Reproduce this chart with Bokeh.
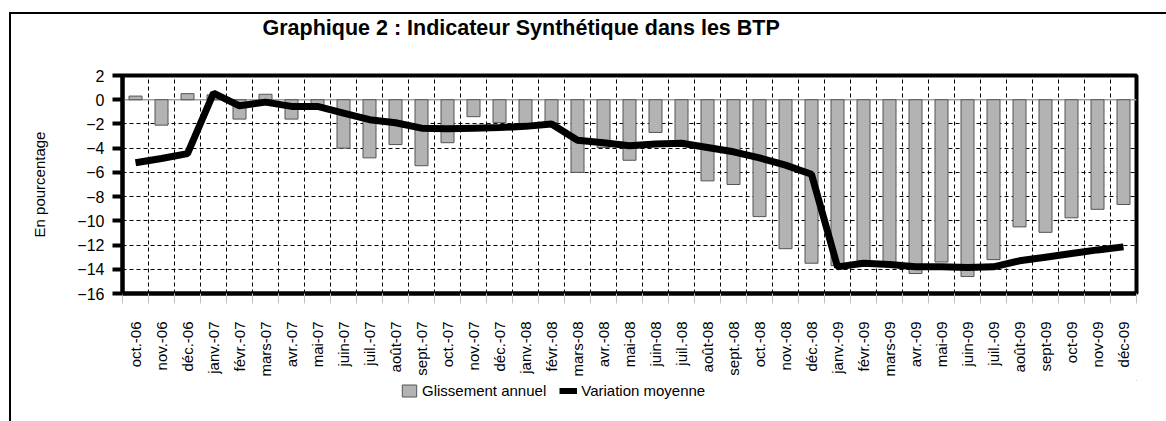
import math
from bokeh.plotting import figure
from bokeh.layouts import column
from bokeh.models import (Range1d, FixedTicker, Span, Legend, LegendItem, ColumnDataSource,
                          Label)
from bokeh.embed import file_html
from bokeh.resources import INLINE

months = ["oct.-06", "nov.-06", "déc.-06", "janv.-07", "févr.-07", "mars-07", "avr.-07",
          "mai-07", "juin-07", "juil.-07", "août-07", "sept.-07", "oct.-07", "nov.-07",
          "déc.-07", "janv.-08", "févr.-08", "mars-08", "avr.-08", "mai-08", "juin-08",
          "juil.-08", "août-08", "sept.-08", "oct.-08", "nov.-08", "déc.-08", "janv.-09",
          "févr.-09", "mars-09", "avr.-09", "mai-09", "juin-09", "juil.-09", "août-09",
          "sept-09", "oct-09", "nov-09", "déc-09"]

glissement_annuel = [0.3, -2.1, 0.5, 0.4, -1.6, 0.45, -1.6, -0.4, -4.0, -4.8, -3.7, -5.45,
                     -3.55, -1.4, -1.9, -2.2, -1.9, -6.0, -3.95, -5.0, -2.7, -3.5, -6.7,
                     -7.0, -9.65, -12.3, -13.5, -13.7, -13.3, -13.45, -14.35, -13.4,
                     -14.6, -13.2, -10.5, -10.95, -9.75, -9.05, -8.65]

variation_moyenne = [-5.2, -4.85, -4.45, 0.55, -0.5, -0.2, -0.55, -0.55, -1.1, -1.65, -1.9,
                     -2.35, -2.4, -2.35, -2.3, -2.2, -2.0, -3.35, -3.55, -3.8, -3.65, -3.6,
                     -3.95, -4.3, -4.8, -5.4, -6.15, -13.8, -13.5, -13.6, -13.8, -13.8,
                     -13.85, -13.8, -13.3, -13.0, -12.7, -12.4, -12.15]

y_ticks = list(range(-16, 3, 2))

title_text = "Graphique 2 : Indicateur Synthétique dans les BTP"
y_label = "En pourcentage"
series_names = ["Glissement annuel", "Variation moyenne"]
FONT = "Liberation Sans"

BAR_FILL = "#b3b3b3"
BAR_LINE = "#555555"
W = 1166


def blank_fig(h):
    f = figure(width=W, height=h, output_backend="svg", toolbar_location=None,
               x_range=Range1d(0, 1), y_range=Range1d(0, 1),
               x_axis_location=None, y_axis_location=None,
               min_border=0, min_border_left=0, min_border_right=0,
               min_border_top=0, min_border_bottom=0)
    f.grid.visible = False
    f.outline_line_color = None
    f.background_fill_color = None
    f.border_fill_color = None
    return f


# ---------------- title strip ----------------
TITLE_H = 45
tfig = blank_fig(TITLE_H)
# (the strip's frame is aligned with the chart frame, which starts at x=122)
tfig.add_layout(Label(x=140, y=TITLE_H - 27, x_units="screen", y_units="screen",
                      text=title_text, text_font=FONT, text_font_size="21.5px",
                      text_font_style="bold", text_align="left",
                      text_baseline="middle", text_color="black"))

# ---------------- main chart ----------------
MAIN_H = 335
n = len(months)
centers = [i + 0.5 for i in range(n)]
bounds = list(range(n + 1))

src = ColumnDataSource(dict(x=centers, g=glissement_annuel, v=variation_moyenne))

p = figure(width=W, height=MAIN_H, output_backend="svg", toolbar_location=None,
           x_range=Range1d(0, n), y_range=Range1d(-16, 2),
           min_border_left=122, min_border_right=30, min_border_top=30,
           min_border_bottom=87)
p.border_fill_color = None
p.background_fill_color = "white"
p.outline_line_color = "black"
p.outline_line_width = 4

xa = p.xaxis[0]
ya = p.yaxis[0]

p.ygrid.ticker = FixedTicker(ticks=[t for t in y_ticks if t not in (-16, 0, 2)])
p.ygrid.grid_line_color = "black"
p.ygrid.grid_line_dash = "4 3"
p.ygrid.grid_line_width = 1
p.xgrid.ticker = FixedTicker(ticks=bounds[1:-1])
p.xgrid.grid_line_color = "black"
p.xgrid.grid_line_dash = "4 3"
p.xgrid.grid_line_width = 1

p.add_layout(Span(location=0, dimension="width", line_color="#a0a0a0", line_width=1.5,
                  level="underlay"))

p.vbar(x="x", top="g", bottom=0, width=0.5, source=src,
       fill_color=BAR_FILL, line_color=BAR_LINE, line_width=1)
p.line(x="x", y="v", source=src, line_color="black", line_width=7)

ya.ticker = FixedTicker(ticks=y_ticks)
ya.axis_line_width = 4
ya.axis_line_color = "black"
ya.major_tick_line_width = 4
ya.major_tick_out = 10
ya.major_tick_in = 0
ya.minor_tick_line_color = None
ya.major_label_standoff = 8
ya.major_label_text_font = FONT
ya.major_label_text_font_size = "16px"
ya.major_label_text_color = "black"
ya.axis_label = y_label
ya.axis_label_text_font = FONT
ya.axis_label_text_font_size = "15px"
ya.axis_label_text_font_style = "normal"
ya.axis_label_text_color = "black"
ya.axis_label_standoff = 26

xa.ticker = FixedTicker(ticks=centers, minor_ticks=bounds)
xa.major_label_overrides = {c: m for c, m in zip(centers, months)}
xa.major_label_orientation = math.pi / 2
xa.major_tick_out = 0
xa.major_tick_in = 0
xa.minor_tick_out = 10
xa.minor_tick_in = 0
xa.minor_tick_line_color = "#c0c0c0"
xa.minor_tick_line_width = 1
xa.axis_line_color = "black"
xa.axis_line_width = 4
xa.major_label_standoff = 18
xa.major_label_text_font = FONT
xa.major_label_text_font_size = "15px"
xa.major_label_text_color = "black"

# ---------------- legend strip ----------------
LEG_H = 421 - TITLE_H - MAIN_H
lfig = blank_fig(LEG_H)
# legend-only renderers, placed outside the strip's visible range
lbar = lfig.vbar(x=[5], top=[6], bottom=[5], width=0.5, fill_color=BAR_FILL,
                 line_color=BAR_LINE, line_width=1)
lline = lfig.line(x=[5, 6], y=[5, 5], line_color="black", line_width=6)
legend = Legend(items=[LegendItem(label=series_names[0], renderers=[lbar]),
                       LegendItem(label=series_names[1], renderers=[lline])],
                location=(278, 22), orientation="horizontal",
                glyph_width=18, glyph_height=15, label_standoff=4, spacing=13,
                padding=0, margin=0, border_line_color=None,
                background_fill_alpha=0,
                label_text_font=FONT, label_text_font_size="15px",
                label_text_color="black")
lfig.add_layout(legend, "center")

layout = column(tfig, p, lfig, spacing=0)
# outer chart-area frame (top and left edges) drawn behind the transparent canvases
layout.styles = {"background-color": "white",
                 "box-shadow": "inset 9px 12px 0 0 white, inset 11px 14px 0 0 black"}

open("out.html", "w").write(file_html(layout, INLINE))
